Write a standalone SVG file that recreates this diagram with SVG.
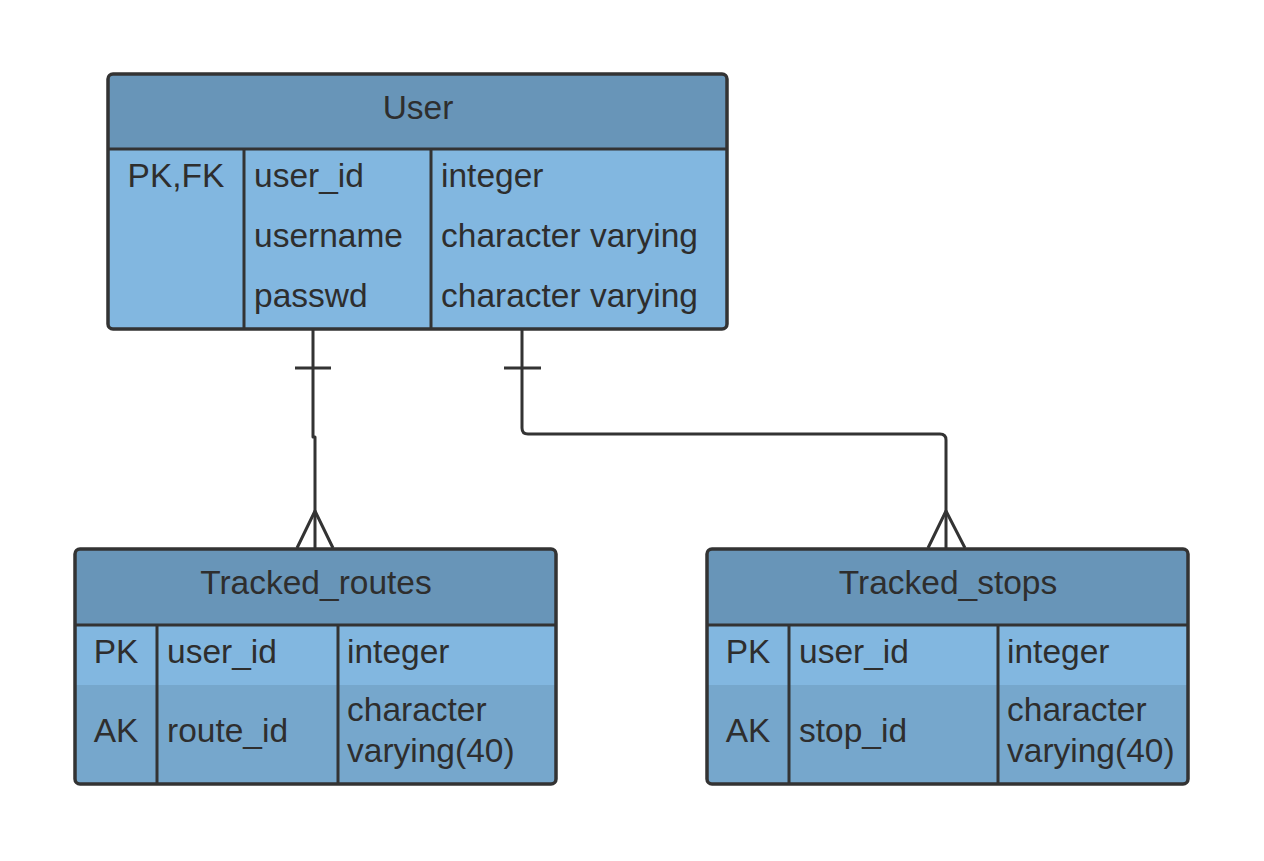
<svg xmlns="http://www.w3.org/2000/svg" width="1264" height="861" viewBox="0 0 1264 861">
<style>
.t{font-family:"Liberation Sans",Arial,sans-serif;font-size:33.5px;fill:#2e2e2e}
.c{text-anchor:middle}
.hd{fill:#6895b8}
.lt{fill:#82b7e0}
.dk{fill:#76a7cc}
.ln{stroke:#333;stroke-width:3;fill:none}
.box{fill:none;stroke:#333;stroke-width:3.5}
</style>
<rect width="1264" height="861" fill="#fff"/>
<g id="connectors" class="ln" stroke-linejoin="round">
<path d="M313 329 V437 H315 V548"/>
<path d="M295 368 H331"/>
<path d="M297 548 L315 511 L333 548"/>
<path d="M522 329 V428 Q522 434 528 434 H940 Q946 434 946 440 V548"/>
<path d="M504 368 H541"/>
<path d="M928 548 L946 511 L965 548"/>
</g>
<g id="user">
<path class="hd" d="M113 74 H722 Q727 74 727 79 V149 H108 V79 Q108 74 113 74 Z"/>
<path class="lt" d="M108 149 H727 V324 Q727 329 722 329 H113 Q108 329 108 324 Z"/>
<line class="ln" x1="108" y1="149" x2="727" y2="149"/>
<line class="ln" x1="244" y1="149" x2="244" y2="329"/>
<line class="ln" x1="431" y1="149" x2="431" y2="329"/>
<rect class="box" x="108" y="74" width="619" height="255" rx="5"/>
<text class="t c" x="418" y="119">User</text>
<text class="t c" x="176" y="187">PK,FK</text>
<text class="t" x="254" y="187">user_id</text>
<text class="t" x="254" y="247">username</text>
<text class="t" x="254" y="307">passwd</text>
<text class="t" x="441" y="187">integer</text>
<text class="t" x="441" y="247">character varying</text>
<text class="t" x="441" y="307">character varying</text>
</g>
<g id="tracked_routes">
<path class="hd" d="M80 549 H551 Q556 549 556 554 V625 H75 V554 Q75 549 80 549 Z"/>
<rect class="lt" x="75" y="625" width="481" height="60"/>
<path class="dk" d="M75 685 H556 V779 Q556 784 551 784 H80 Q75 784 75 779 Z"/>
<line class="ln" x1="75" y1="625" x2="556" y2="625"/>
<line class="ln" x1="157" y1="625" x2="157" y2="784"/>
<line class="ln" x1="338" y1="625" x2="338" y2="784"/>
<rect class="box" x="75" y="549" width="481" height="235" rx="5"/>
<text class="t c" x="316" y="594">Tracked_routes</text>
<text class="t c" x="116" y="663">PK</text>
<text class="t" x="167" y="663">user_id</text>
<text class="t" x="347" y="663">integer</text>
<text class="t c" x="116" y="742">AK</text>
<text class="t" x="167" y="742">route_id</text>
<text class="t" x="347" y="721">character</text>
<text class="t" x="347" y="762">varying(40)</text>
</g>
<g id="tracked_stops">
<path class="hd" d="M712 549 H1183 Q1188 549 1188 554 V625 H707 V554 Q707 549 712 549 Z"/>
<rect class="lt" x="707" y="625" width="481" height="60"/>
<path class="dk" d="M707 685 H1188 V779 Q1188 784 1183 784 H712 Q707 784 707 779 Z"/>
<line class="ln" x1="707" y1="625" x2="1188" y2="625"/>
<line class="ln" x1="789" y1="625" x2="789" y2="784"/>
<line class="ln" x1="998" y1="625" x2="998" y2="784"/>
<rect class="box" x="707" y="549" width="481" height="235" rx="5"/>
<text class="t c" x="948" y="594">Tracked_stops</text>
<text class="t c" x="748" y="663">PK</text>
<text class="t" x="799" y="663">user_id</text>
<text class="t" x="1007" y="663">integer</text>
<text class="t c" x="748" y="742">AK</text>
<text class="t" x="799" y="742">stop_id</text>
<text class="t" x="1007" y="721">character</text>
<text class="t" x="1007" y="762">varying(40)</text>
</g>
</svg>
